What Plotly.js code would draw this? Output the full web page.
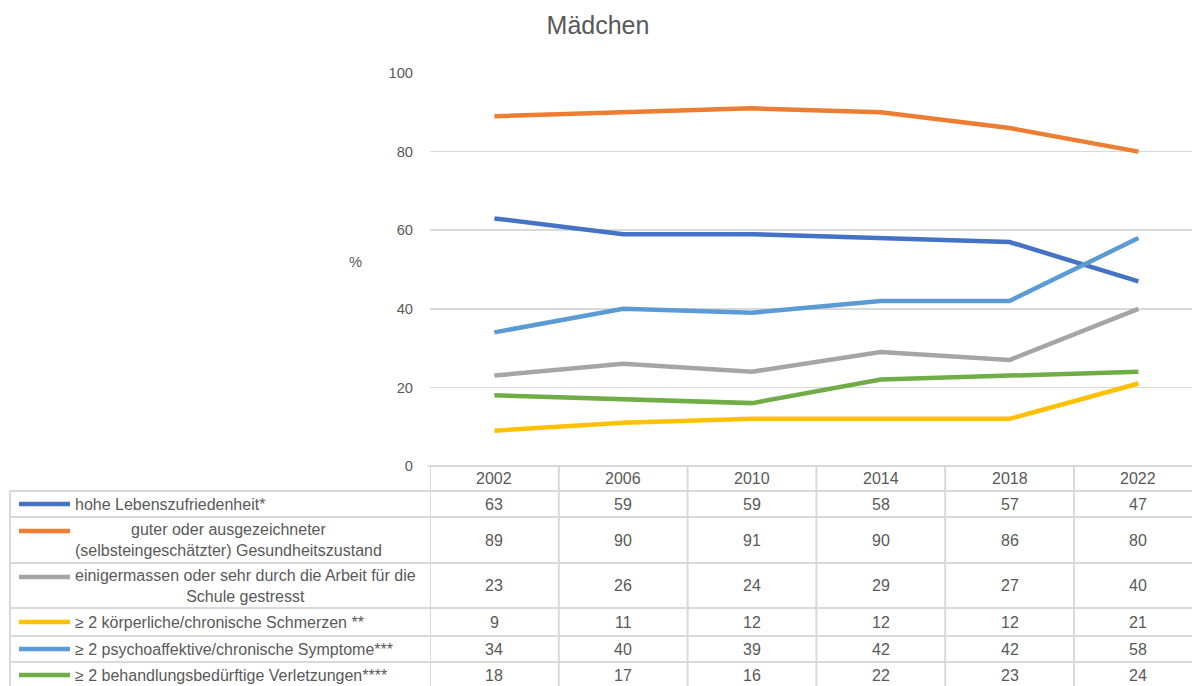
<!DOCTYPE html>
<html>
<head>
<meta charset="utf-8">
<script src="https://cdn.plot.ly/plotly-3.0.1.min.js"></script>
<style>html,body{margin:0;padding:0;overflow:hidden;background:#fff;}#chart{width:1192px;height:686px;}</style>
</head>
<body>
<div id="chart"></div>
<script>
// ---- data ----
const years = ['2002', '2006', '2010', '2014', '2018', '2022'];
const seriesNames = [
  'hohe Lebenszufriedenheit*',
  'guter oder ausgezeichneter<br>(selbsteingeschätzter) Gesundheitszustand',
  'einigermassen oder sehr durch die Arbeit für die<br>Schule gestresst',
  '≥ 2 körperliche/chronische Schmerzen **',
  '≥ 2 psychoaffektive/chronische Symptome***',
  '≥ 2 behandlungsbedürftige Verletzungen****'
];
const lebenszufriedenheit = [63, 59, 59, 58, 57, 47];
const gesundheitszustand = [89, 90, 91, 90, 86, 80];
const gestresst = [23, 26, 24, 29, 27, 40];
const schmerzen = [9, 11, 12, 12, 12, 21];
const symptome = [34, 40, 39, 42, 42, 58];
const verletzungen = [18, 17, 16, 22, 23, 24];
const yTicks = [0, 20, 40, 60, 80, 100];
const chartTitle = 'Mädchen';
const yLabel = '%';

// ---- styling ----
const colors = ['#4472C4', '#ED7D31', '#A5A5A5', '#FFC000', '#5B9BD5', '#70AD47'];
const allSeries = [lebenszufriedenheit, gesundheitszustand, gestresst, schmerzen, symptome, verletzungen];
const textColor = '#595959';
const gridColor = '#d9d9d9';
const FONT = 'Liberation Sans, Arial, sans-serif';
const TABLE_SIZE = 16;

const W = 1192, H = 686;
const L = 430, T = 73, B = 220;
const plotW = W - L, plotH = H - T - B;
const colW = 128.8;
const px2x = p => (p - L) / plotW;          // pixel -> paper x
const py2y = p => (H - B - p) / plotH;      // pixel -> paper y

// table geometry (pixels)
const headerTop = 466, headerMid = 478.5;
const rowTops = [491, 517, 563, 608, 636, 662];
const rowMids = [504, 540, 585.5, 622, 649, 675];
const keyY = [504, 531, 577, 622, 649, 675];

const x = years.map((_, i) => i);

const traces = allSeries.map((vals, k) => ({
  type: 'scatter', mode: 'lines',
  x: x, y: vals,
  line: {color: colors[k], width: 4.5},
  hoverinfo: 'skip', showlegend: false
}));

const shapes = [];
const annotations = [];
const lineStyle = {color: gridColor, width: 2};

// header top line
shapes.push({type: 'line', xref: 'paper', yref: 'paper', x0: px2x(428), x1: 1.05, y0: py2y(headerTop), y1: py2y(headerTop), line: lineStyle});
// row lines
rowTops.forEach(t => shapes.push({type: 'line', xref: 'paper', yref: 'paper', x0: px2x(10), x1: 1.05, y0: py2y(t), y1: py2y(t), line: lineStyle}));
// left border
shapes.push({type: 'line', xref: 'paper', yref: 'paper', x0: px2x(10), x1: px2x(10), y0: py2y(rowTops[0]), y1: py2y(H + 5), line: lineStyle});
// column separators
years.forEach((_, i) => shapes.push({type: 'line', xref: 'x', yref: 'paper', x0: i - 0.5, x1: i - 0.5, y0: py2y(headerTop), y1: py2y(H + 5), line: lineStyle}));

// header years
years.forEach((yr, i) => annotations.push({xref: 'x', yref: 'paper', x: i, y: py2y(headerMid), text: yr, showarrow: false, xanchor: 'center', yanchor: 'middle', font: {family: FONT, size: TABLE_SIZE, color: textColor}}));

// rows: keys, labels, values
allSeries.forEach((vals, k) => {
  shapes.push({type: 'line', xref: 'paper', yref: 'paper', x0: px2x(19), x1: px2x(70), y0: py2y(keyY[k]), y1: py2y(keyY[k]), line: {color: colors[k], width: 4.5}});
  annotations.push({xref: 'paper', yref: 'paper', x: px2x(73), y: py2y(rowMids[k]), text: seriesNames[k], showarrow: false, xanchor: 'left', yanchor: 'middle', align: 'center', font: {family: FONT, size: TABLE_SIZE, color: textColor}});
  vals.forEach((v, i) => annotations.push({xref: 'x', yref: 'paper', x: i, y: py2y(rowMids[k]), text: String(v), showarrow: false, xanchor: 'center', yanchor: 'middle', font: {family: FONT, size: TABLE_SIZE, color: textColor}}));
});

// y label
annotations.push({xref: 'paper', yref: 'paper', x: px2x(355), y: py2y(262), text: yLabel, showarrow: false, xanchor: 'center', yanchor: 'middle', font: {family: FONT, size: 14.7, color: textColor}});

const layout = {
  width: W, height: H,
  margin: {l: L, r: 0, t: T, b: B, pad: 0},
  paper_bgcolor: '#fff', plot_bgcolor: '#fff',
  title: {text: chartTitle, xref: 'container', yref: 'container', x: 598 / W, y: 1 - 25 / H, xanchor: 'center', yanchor: 'middle', font: {family: FONT, size: 25, color: textColor}},
  xaxis: {range: [-0.5, -0.5 + plotW / colW], showticklabels: false, showgrid: false, zeroline: false, showline: false, fixedrange: true},
  yaxis: {range: [0, 100], tickvals: yTicks, ticktext: yTicks.map(String), showgrid: true, gridcolor: gridColor, gridwidth: 1.5, zeroline: false, showline: false, ticks: '', ticklabelstandoff: 16, tickfont: {family: FONT, size: 14.7, color: textColor}, fixedrange: true},
  shapes: shapes,
  annotations: annotations,
  showlegend: false
};

Plotly.newPlot('chart', traces, layout, {displayModeBar: false, staticPlot: true});
</script>
</body>
</html>
